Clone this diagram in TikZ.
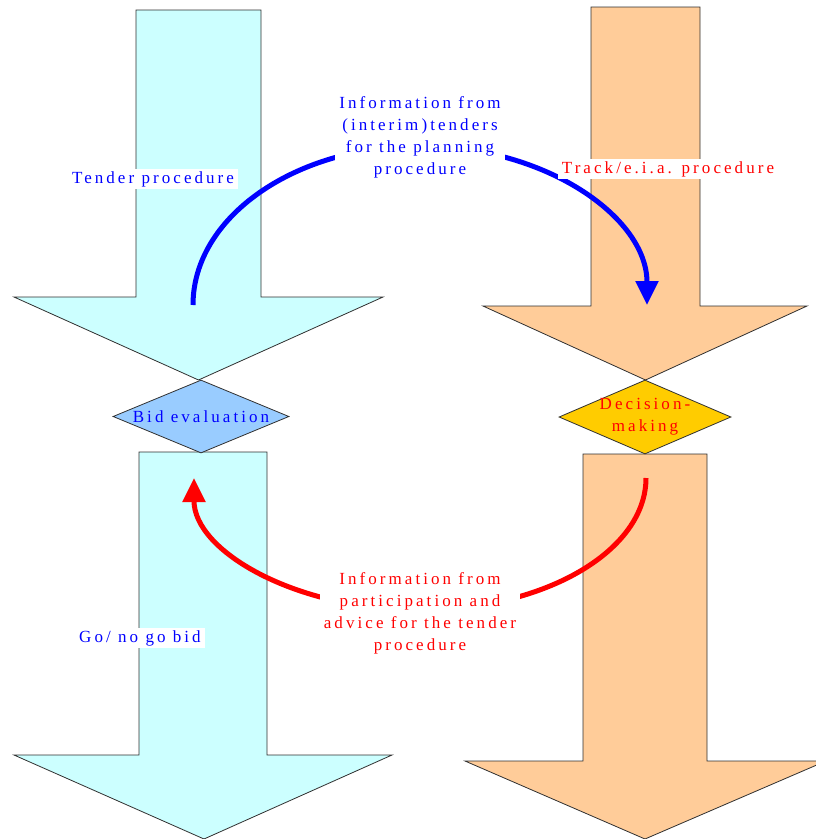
\documentclass[tikz,border=0pt]{standalone}
\usepackage{fontspec}
\setmainfont{Liberation Serif}[LetterSpace=18]
\usetikzlibrary{arrows.meta,shapes.geometric}
\definecolor{cyanfill}{HTML}{CCFFFF}
\definecolor{peach}{HTML}{FFCC99}
\definecolor{bidblue}{HTML}{99CCFF}
\definecolor{gold}{HTML}{FFCC00}
\definecolor{edge}{HTML}{303030}
\begin{document}
\begin{tikzpicture}[x=1pt,y=-1pt,
  blockarrow/.style={draw=edge,line width=0.8pt,line join=miter},
  decision/.style={diamond,draw=edge,line width=0.8pt,inner sep=0pt,minimum width=#1},
  lbl/.style={font=\fontsize{17}{22}\selectfont,align=center,inner xsep=4pt,inner ysep=2.5pt},
  flow/.style={line width=5pt,-{Triangle[length=24pt,width=22pt]}}
]
\useasboundingbox (0,0) rectangle (816,839);
% block arrows
\draw[blockarrow,fill=cyanfill] (136,10) -- (261,10) -- (261,297) -- (383,297) -- (198.5,380) -- (14,297) -- (136,297) -- cycle;
\draw[blockarrow,fill=peach] (591,7) -- (700,7) -- (700,306) -- (807,306) -- (645.5,380) -- (483,306) -- (591,306) -- cycle;
\draw[blockarrow,fill=cyanfill] (139,452) -- (267,452) -- (267,755) -- (392,755) -- (204,839) -- (14,755) -- (139,755) -- cycle;
\draw[blockarrow,fill=peach] (583,454) -- (707,454) -- (707,761) -- (826,761) -- (645,839) -- (465,761) -- (583,761) -- cycle;
% decisions
\node[decision=176pt,minimum height=73pt,fill=bidblue] (bid) at (201,416.5) {};
\node[lbl,text=blue] (bidt) at (bid) {Bid evaluation};
\node[decision=172pt,minimum height=74pt,fill=gold] (dec) at (645,417) {};
\node[lbl,text=red] (dect) at (dec) {Decision-\\making};
% flows
\coordinate (bs) at (193,305);
\draw[flow,blue] (bs) arc[start angle=180,end angle=360,x radius=227,y radius=159];
\coordinate (rs) at (646,478);
\draw[flow,red] (rs) arc[start angle=0,end angle=180,x radius=226,y radius=132];
% labels
\node[lbl,text=blue,fill=white] (binfo) at (420,137) {Information from\\(interim)tenders\\for the planning\\procedure};
\node[lbl,text=red,fill=white] (rinfo) at (420,613) {Information from\\participation and\\advice for the tender\\procedure};
\node[lbl,text=blue,fill=white] (tender) at (153,179) {Tender procedure};
\node[lbl,text=red,fill=white] (track) at (668,169) {Track/e.i.a. procedure};
\node[lbl,text=blue,fill=white] (gonogo) at (140,638) {Go/ no go bid};
\end{tikzpicture}
\end{document}
